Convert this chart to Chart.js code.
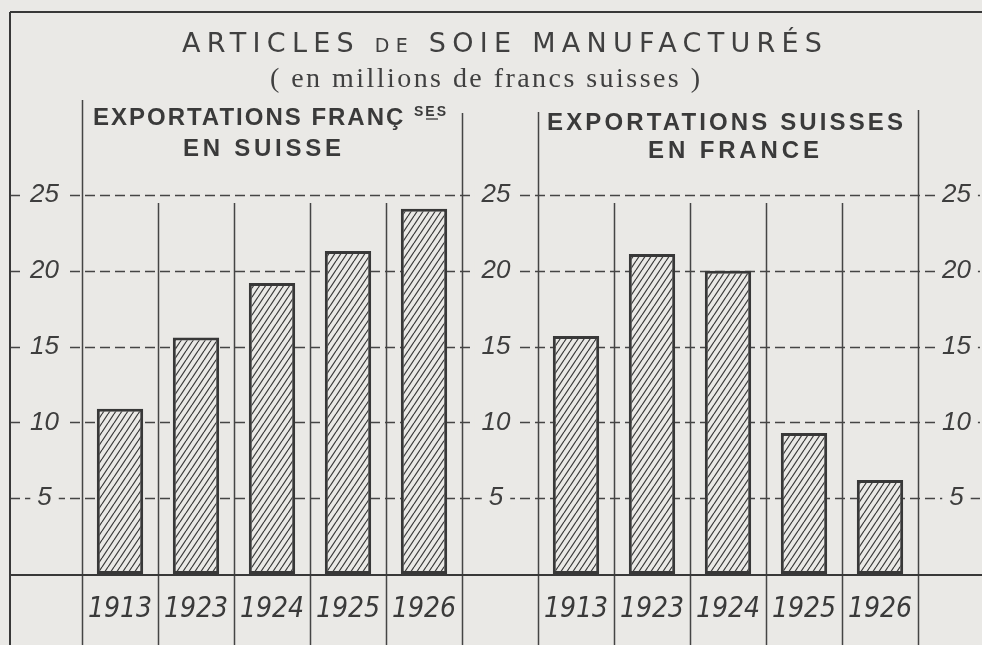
<!DOCTYPE html>
<html>
<head>
<meta charset="utf-8">
<script src="https://cdn.jsdelivr.net/npm/chart.js@4.4.1/dist/chart.umd.min.js"></script>
<style>
  html, body { margin: 0; padding: 0; background: #eae9e6; }
  canvas { display: block; }
</style>
</head>
<body>
<canvas id="soie" width="982" height="645"></canvas>
<script>
// ---- données (millions de francs suisses) ----
const annees = ['1913', '1923', '1924', '1925', '1926'];
const exportFrEnSuisse = [10.9, 15.6, 19.2, 21.3, 24.1];
const exportChEnFrance = [15.7, 21.1, 20.0, 9.3, 6.2];
const graduations = [0, 5, 10, 15, 20, 25];

const PAPIER = '#eae9e6';
const ENCRE = '#383838';
const TRAIT = '#454545';
const POLICE_Y = "'Liberation Sans', Arial, sans-serif";
const POLICE_T = "'DejaVu Sans', sans-serif";
const POLICE_X = "'Liberation Sans Narrow', 'DejaVu Sans Condensed', 'Liberation Sans', sans-serif";

// colonnes : 5 années, une colonne vide, 5 années
const categories = [...annees, '', ...annees];
const serieFr = [...exportFrEnSuisse, ...Array(6).fill(null)];
const serieCh = [...Array(6).fill(null), ...exportChEnFrance];

const canvas = document.getElementById('soie');
const ctx0 = canvas.getContext('2d');

/** motif hachuré des barres */
function hachures() {
  const w = 6, h = 9;
  const c = document.createElement('canvas');
  c.width = w; c.height = h;
  const g = c.getContext('2d');
  g.fillStyle = PAPIER;
  g.fillRect(0, 0, w, h);
  g.strokeStyle = ENCRE;
  g.lineWidth = 1.2;
  for (const dx of [-w, 0, w]) {
    g.beginPath();
    g.moveTo(dx, h);
    g.lineTo(dx + w, 0);
    g.stroke();
  }
  return ctx0.createPattern(c, 'repeat');
}
const motif = hachures();

/** texte espacé pour remplir une largeur donnée */
function texteEspace(ctx, morceaux, gauche, base, largeur) {
  ctx.letterSpacing = '0px';
  let brut = 0, n = 0;
  morceaux.forEach(m => { ctx.font = m.f; brut += ctx.measureText(m.t).width; n += m.t.length; });
  const ls = (largeur - brut) / Math.max(1, n - 1);
  ctx.letterSpacing = ls + 'px';
  let x = gauche;
  const pos = [];
  morceaux.forEach(m => {
    ctx.font = m.f;
    ctx.fillText(m.t, x, base + (m.dy || 0));
    pos.push(x);
    x += ctx.measureText(m.t).width;
  });
  ctx.letterSpacing = '0px';
  return pos;
}

function trait(ctx, x1, y1, x2, y2) {
  ctx.beginPath();
  ctx.moveTo(x1, y1);
  ctx.lineTo(x2, y2);
  ctx.stroke();
}

const PAD_G = 23, PAD_D = 24;
const etiquette = v => (v === 0 ? '' : String(v));

const cadre = {
  id: 'cadre',
  beforeDraw(chart) {
    const { ctx, width, height } = chart;
    const { x, y, y2 } = chart.scales;
    ctx.save();
    ctx.fillStyle = PAPIER;
    ctx.fillRect(0, 0, width, height);

    // lignes de graduation pointillées
    ctx.strokeStyle = TRAIT;
    ctx.lineWidth = 1.4;
    ctx.setLineDash([10, 5]);
    graduations.filter(v => v > 0).forEach(v => {
      const py = Math.round(y.getPixelForValue(v)) + 0.5;
      trait(ctx, 10, py, width, py);
    });
    ctx.setLineDash([]);

    // réserves pour les chiffres + chiffres du milieu
    ctx.font = 'italic 26px ' + POLICE_Y;
    const larg = Math.max(...graduations.map(v => ctx.measureText(etiquette(v)).width));
    const cxG = y.right - PAD_G - larg / 2;
    const cxD = y2.left + PAD_D + larg / 2;
    const cxM = x.getPixelForValue(5) - 4;
    graduations.filter(v => v > 0).forEach(v => {
      const py = y.getPixelForValue(v);
      const w = ctx.measureText(etiquette(v)).width;
      ctx.fillStyle = PAPIER;
      [cxG, cxM, cxD].forEach(cx => ctx.fillRect(cx - w / 2 - 7, py - 10, w + 14, 20));
      ctx.fillStyle = '#3e3e3e';
      ctx.textAlign = 'center';
      ctx.textBaseline = 'middle';
      ctx.fillText(etiquette(v), cxM, py);
    });

    // verticales
    ctx.strokeStyle = TRAIT;
    ctx.lineWidth = 1.5;
    const haut25 = y.getPixelForValue(25) + 8;
    const hautAxes = { 0: 100, 5: 113, 6: 112, 11: 110 };
    for (let i = 0; i <= 11; i++) {
      const px = Math.round(x.getPixelForValue(i - 0.5)) + 0.5;
      const top = hautAxes[i] !== undefined ? hautAxes[i] : haut25;
      trait(ctx, px, top, px, height);
    }

    // cadre extérieur et ligne de base
    ctx.lineWidth = 2;
    ctx.strokeStyle = ENCRE;
    trait(ctx, 10, 12, 10, height);
    trait(ctx, 10, 12, width, 12);
    const base = Math.round(y.getPixelForValue(0)) + 1;
    trait(ctx, 10, base, width, base);

    // titres
    ctx.textAlign = 'left';
    ctx.textBaseline = 'alphabetic';
    ctx.fillStyle = '#404040';
    texteEspace(ctx, [
      { t: 'ARTICLES ', f: '27px ' + POLICE_T },
      { t: 'DE', f: '19px ' + POLICE_T },
      { t: ' SOIE MANUFACTURÉS', f: '27px ' + POLICE_T }
    ], 182, 52, 640);
    texteEspace(ctx, [{ t: '( en millions de francs suisses )', f: "28px 'Liberation Serif', serif" }], 270, 87, 430);

    ctx.fillStyle = '#3a3a3a';
    const pos = texteEspace(ctx, [
      { t: 'EXPORTATIONS FRANÇ ', f: 'bold 24px ' + POLICE_Y },
      { t: 'SES', f: 'bold 14px ' + POLICE_Y, dy: -9 }
    ], 93, 125, 353);
    // petit soulignement de l'abréviation
    ctx.lineWidth = 1.3;
    trait(ctx, pos[1] + 12, 119, pos[1] + 24, 119);
    texteEspace(ctx, [{ t: 'EN SUISSE', f: 'bold 24px ' + POLICE_Y }], 183, 156, 158);
    texteEspace(ctx, [{ t: 'EXPORTATIONS SUISSES', f: 'bold 24px ' + POLICE_Y }], 547, 130, 356);
    texteEspace(ctx, [{ t: 'EN FRANCE', f: 'bold 24px ' + POLICE_Y }], 648, 158, 171);
    ctx.restore();
  }
};

const barre = {
  backgroundColor: motif,
  borderColor: ENCRE,
  borderWidth: 3,
  borderSkipped: false,
  barPercentage: 0.61,
  categoryPercentage: 1,
  grouped: false,
  yAxisID: 'y'
};

new Chart(canvas, {
  type: 'bar',
  data: {
    labels: categories,
    datasets: [
      { label: 'Exportations françaises en Suisse', data: serieFr, ...barre },
      { label: 'Exportations suisses en France', data: serieCh, ...barre }
    ]
  },
  plugins: [cadre],
  options: {
    responsive: false,
    animation: false,
    layout: { padding: { top: 195, right: 0, bottom: 0, left: 0 } },
    plugins: { legend: { display: false }, tooltip: { enabled: false } },
    scales: {
      x: {
        grid: { display: false, drawTicks: false },
        border: { display: false },
        ticks: {
          autoSkip: false, maxRotation: 0, padding: 19, color: '#3a3a3a',
          font: { family: POLICE_X, size: 28, style: 'italic' }
        },
        afterFit: s => { s.height = 71; }
      },
      y: {
        position: 'left', min: 0, max: 25,
        grid: { display: false, drawTicks: false },
        border: { display: false },
        ticks: {
          stepSize: 5, padding: PAD_G, crossAlign: 'center', color: '#3e3e3e',
          font: { family: POLICE_Y, size: 26, style: 'italic' },
          callback: etiquette
        },
        afterFit: s => { s.width = 82; }
      },
      y2: {
        position: 'right', min: 0, max: 25,
        grid: { display: false, drawTicks: false },
        border: { display: false },
        ticks: {
          stepSize: 5, padding: PAD_D, crossAlign: 'center', color: '#3e3e3e',
          font: { family: POLICE_Y, size: 26, style: 'italic' },
          callback: etiquette
        },
        afterFit: s => { s.width = 64; }
      }
    }
  }
});
</script>
</body>
</html>
